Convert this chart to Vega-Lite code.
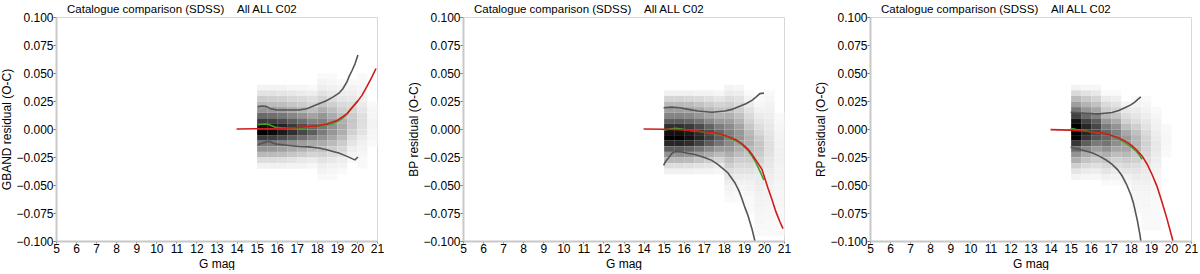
{
"$schema":"https://vega.github.io/schema/vega-lite/v6.json",
"padding":{"left":0,"right":0,"top":3,"bottom":0},
"background":"white",
"config":{
"font":"Liberation Sans",
"view":{"stroke":"#d8d8d8","strokeWidth":1},
"axis":{"labelFont":"Liberation Sans","labelFontSize":12,"labelColor":"#000","titleFont":"Liberation Sans","titleFontSize":12,"titleFontWeight":"normal","titleColor":"#000","gridColor":"#e6e6e6","gridDash":[4,4],"domainColor":"#c8c8c8","domainWidth":2,"tickColor":"#777"},
"axisX":{"tickSize":2,"labelPadding":0,"titlePadding":4},
"axisY":{"tickSize":3,"labelPadding":0,"titlePadding":2},
"title":{"font":"Liberation Sans","fontSize":11.5,"fontWeight":"normal","anchor":"start","frame":"group","dx":11,"offset":-4,"color":"#000"},
"concat":{"spacing":22}
},
"datasets":{
"heatG":[
{"x":15,"y":0.035,"d":0.04},{"x":15,"y":0.03,"d":0.1},{"x":15,"y":0.025,"d":0.18},{"x":15,"y":0.02,"d":0.25},{"x":15,"y":0.015,"d":0.38},{"x":15,"y":0.01,"d":0.55},{"x":15,"y":0.005,"d":0.75},{"x":15,"y":0,"d":0.95},{"x":15,"y":-0.005,"d":1},{"x":15,"y":-0.01,"d":0.75},{"x":15,"y":-0.015,"d":0.5},{"x":15,"y":-0.02,"d":0.38},{"x":15,"y":-0.025,"d":0.25},{"x":15,"y":-0.03,"d":0.12},{"x":15,"y":-0.035,"d":0.05},
{"x":15.5,"y":0.035,"d":0.04},{"x":15.5,"y":0.03,"d":0.1},{"x":15.5,"y":0.025,"d":0.17},{"x":15.5,"y":0.02,"d":0.24},{"x":15.5,"y":0.015,"d":0.37},{"x":15.5,"y":0.01,"d":0.53},{"x":15.5,"y":0.005,"d":0.73},{"x":15.5,"y":0,"d":0.92},{"x":15.5,"y":-0.005,"d":0.97},{"x":15.5,"y":-0.01,"d":0.73},{"x":15.5,"y":-0.015,"d":0.49},{"x":15.5,"y":-0.02,"d":0.37},{"x":15.5,"y":-0.025,"d":0.24},{"x":15.5,"y":-0.03,"d":0.12},{"x":15.5,"y":-0.035,"d":0.05},
{"x":16,"y":0.035,"d":0.04},{"x":16,"y":0.03,"d":0.09},{"x":16,"y":0.025,"d":0.16},{"x":16,"y":0.02,"d":0.23},{"x":16,"y":0.015,"d":0.34},{"x":16,"y":0.01,"d":0.5},{"x":16,"y":0.005,"d":0.68},{"x":16,"y":0,"d":0.86},{"x":16,"y":-0.005,"d":0.9},{"x":16,"y":-0.01,"d":0.68},{"x":16,"y":-0.015,"d":0.45},{"x":16,"y":-0.02,"d":0.34},{"x":16,"y":-0.025,"d":0.23},{"x":16,"y":-0.03,"d":0.11},{"x":16,"y":-0.035,"d":0.05},
{"x":16.5,"y":0.035,"d":0.03},{"x":16.5,"y":0.03,"d":0.08},{"x":16.5,"y":0.025,"d":0.14},{"x":16.5,"y":0.02,"d":0.2},{"x":16.5,"y":0.015,"d":0.3},{"x":16.5,"y":0.01,"d":0.44},{"x":16.5,"y":0.005,"d":0.6},{"x":16.5,"y":0,"d":0.76},{"x":16.5,"y":-0.005,"d":0.8},{"x":16.5,"y":-0.01,"d":0.6},{"x":16.5,"y":-0.015,"d":0.4},{"x":16.5,"y":-0.02,"d":0.3},{"x":16.5,"y":-0.025,"d":0.2},{"x":16.5,"y":-0.03,"d":0.1},{"x":16.5,"y":-0.035,"d":0.04},
{"x":17,"y":0.035,"d":0.03},{"x":17,"y":0.03,"d":0.07},{"x":17,"y":0.025,"d":0.13},{"x":17,"y":0.02,"d":0.18},{"x":17,"y":0.015,"d":0.27},{"x":17,"y":0.01,"d":0.39},{"x":17,"y":0.005,"d":0.53},{"x":17,"y":0,"d":0.67},{"x":17,"y":-0.005,"d":0.7},{"x":17,"y":-0.01,"d":0.53},{"x":17,"y":-0.015,"d":0.35},{"x":17,"y":-0.02,"d":0.27},{"x":17,"y":-0.025,"d":0.18},{"x":17,"y":-0.03,"d":0.08},{"x":17,"y":-0.035,"d":0.04},
{"x":17.5,"y":0.035,"d":0.02},{"x":17.5,"y":0.03,"d":0.06},{"x":17.5,"y":0.025,"d":0.11},{"x":17.5,"y":0.02,"d":0.15},{"x":17.5,"y":0.015,"d":0.23},{"x":17.5,"y":0.01,"d":0.33},{"x":17.5,"y":0.005,"d":0.45},{"x":17.5,"y":0,"d":0.57},{"x":17.5,"y":-0.005,"d":0.6},{"x":17.5,"y":-0.01,"d":0.45},{"x":17.5,"y":-0.015,"d":0.3},{"x":17.5,"y":-0.02,"d":0.23},{"x":17.5,"y":-0.025,"d":0.15},{"x":17.5,"y":-0.03,"d":0.07},{"x":17.5,"y":-0.035,"d":0.03},
{"x":18,"y":0.045,"d":0.02},{"x":18,"y":0.04,"d":0.04},{"x":18,"y":0.035,"d":0.06},{"x":18,"y":0.03,"d":0.1},{"x":18,"y":0.025,"d":0.15},{"x":18,"y":0.02,"d":0.21},{"x":18,"y":0.015,"d":0.29},{"x":18,"y":0.01,"d":0.38},{"x":18,"y":0.005,"d":0.46},{"x":18,"y":0,"d":0.5},{"x":18,"y":-0.005,"d":0.48},{"x":18,"y":-0.01,"d":0.4},{"x":18,"y":-0.015,"d":0.3},{"x":18,"y":-0.02,"d":0.23},{"x":18,"y":-0.025,"d":0.16},{"x":18,"y":-0.03,"d":0.1},{"x":18,"y":-0.035,"d":0.06},{"x":18,"y":-0.04,"d":0.04},{"x":18,"y":-0.045,"d":0.02},
{"x":18.5,"y":0.045,"d":0.02},{"x":18.5,"y":0.04,"d":0.03},{"x":18.5,"y":0.035,"d":0.05},{"x":18.5,"y":0.03,"d":0.08},{"x":18.5,"y":0.025,"d":0.12},{"x":18.5,"y":0.02,"d":0.17},{"x":18.5,"y":0.015,"d":0.23},{"x":18.5,"y":0.01,"d":0.3},{"x":18.5,"y":0.005,"d":0.37},{"x":18.5,"y":0,"d":0.4},{"x":18.5,"y":-0.005,"d":0.38},{"x":18.5,"y":-0.01,"d":0.32},{"x":18.5,"y":-0.015,"d":0.24},{"x":18.5,"y":-0.02,"d":0.18},{"x":18.5,"y":-0.025,"d":0.13},{"x":18.5,"y":-0.03,"d":0.08},{"x":18.5,"y":-0.035,"d":0.05},{"x":18.5,"y":-0.04,"d":0.03},{"x":18.5,"y":-0.045,"d":0.02},
{"x":19,"y":0.04,"d":0.02},{"x":19,"y":0.035,"d":0.04},{"x":19,"y":0.03,"d":0.06},{"x":19,"y":0.025,"d":0.09},{"x":19,"y":0.02,"d":0.13},{"x":19,"y":0.015,"d":0.17},{"x":19,"y":0.01,"d":0.23},{"x":19,"y":0.005,"d":0.28},{"x":19,"y":0,"d":0.3},{"x":19,"y":-0.005,"d":0.29},{"x":19,"y":-0.01,"d":0.24},{"x":19,"y":-0.015,"d":0.18},{"x":19,"y":-0.02,"d":0.14},{"x":19,"y":-0.025,"d":0.1},{"x":19,"y":-0.03,"d":0.06},{"x":19,"y":-0.035,"d":0.04},{"x":19,"y":-0.04,"d":0.02},
{"x":19.5,"y":0.04,"d":0.02},{"x":19.5,"y":0.035,"d":0.04},{"x":19.5,"y":0.03,"d":0.06},{"x":19.5,"y":0.025,"d":0.08},{"x":19.5,"y":0.02,"d":0.12},{"x":19.5,"y":0.015,"d":0.15},{"x":19.5,"y":0.01,"d":0.18},{"x":19.5,"y":0.005,"d":0.2},{"x":19.5,"y":0,"d":0.19},{"x":19.5,"y":-0.005,"d":0.16},{"x":19.5,"y":-0.01,"d":0.12},{"x":19.5,"y":-0.015,"d":0.09},{"x":19.5,"y":-0.02,"d":0.06},{"x":19.5,"y":-0.025,"d":0.04},{"x":19.5,"y":-0.03,"d":0.02},
{"x":20,"y":0.045,"d":0.02},{"x":20,"y":0.04,"d":0.02},{"x":20,"y":0.035,"d":0.03},{"x":20,"y":0.03,"d":0.04},{"x":20,"y":0.025,"d":0.05},{"x":20,"y":0.02,"d":0.07},{"x":20,"y":0.015,"d":0.09},{"x":20,"y":0.01,"d":0.11},{"x":20,"y":0.005,"d":0.12},{"x":20,"y":0,"d":0.11},{"x":20,"y":-0.005,"d":0.1},{"x":20,"y":-0.01,"d":0.07},{"x":20,"y":-0.015,"d":0.05},{"x":20,"y":-0.02,"d":0.04},{"x":20,"y":-0.025,"d":0.03},{"x":20,"y":-0.03,"d":0.02},{"x":20,"y":-0.035,"d":0.02},
{"x":20.5,"y":0.02,"d":0.02},{"x":20.5,"y":0.015,"d":0.03},{"x":20.5,"y":0.01,"d":0.03},{"x":20.5,"y":0.005,"d":0.04},{"x":20.5,"y":0,"d":0.04},{"x":20.5,"y":-0.005,"d":0.03},{"x":20.5,"y":-0.01,"d":0.03},{"x":20.5,"y":-0.015,"d":0.02}
],
"heatBP":[
{"x":15,"y":0.03,"d":0.05},{"x":15,"y":0.025,"d":0.15},{"x":15,"y":0.02,"d":0.25},{"x":15,"y":0.015,"d":0.35},{"x":15,"y":0.01,"d":0.45},{"x":15,"y":0.005,"d":0.6},{"x":15,"y":0,"d":0.8},{"x":15,"y":-0.005,"d":0.95},{"x":15,"y":-0.01,"d":1},{"x":15,"y":-0.015,"d":0.85},{"x":15,"y":-0.02,"d":0.6},{"x":15,"y":-0.025,"d":0.4},{"x":15,"y":-0.03,"d":0.25},{"x":15,"y":-0.035,"d":0.12},{"x":15,"y":-0.04,"d":0.05},
{"x":15.5,"y":0.03,"d":0.05},{"x":15.5,"y":0.025,"d":0.15},{"x":15.5,"y":0.02,"d":0.25},{"x":15.5,"y":0.015,"d":0.35},{"x":15.5,"y":0.01,"d":0.45},{"x":15.5,"y":0.005,"d":0.6},{"x":15.5,"y":0,"d":0.8},{"x":15.5,"y":-0.005,"d":0.95},{"x":15.5,"y":-0.01,"d":1},{"x":15.5,"y":-0.015,"d":0.85},{"x":15.5,"y":-0.02,"d":0.6},{"x":15.5,"y":-0.025,"d":0.4},{"x":15.5,"y":-0.03,"d":0.25},{"x":15.5,"y":-0.035,"d":0.12},{"x":15.5,"y":-0.04,"d":0.05},
{"x":16,"y":0.03,"d":0.05},{"x":16,"y":0.025,"d":0.14},{"x":16,"y":0.02,"d":0.24},{"x":16,"y":0.015,"d":0.33},{"x":16,"y":0.01,"d":0.43},{"x":16,"y":0.005,"d":0.57},{"x":16,"y":0,"d":0.76},{"x":16,"y":-0.005,"d":0.9},{"x":16,"y":-0.01,"d":0.95},{"x":16,"y":-0.015,"d":0.81},{"x":16,"y":-0.02,"d":0.57},{"x":16,"y":-0.025,"d":0.38},{"x":16,"y":-0.03,"d":0.24},{"x":16,"y":-0.035,"d":0.11},{"x":16,"y":-0.04,"d":0.05},
{"x":16.5,"y":0.03,"d":0.04},{"x":16.5,"y":0.025,"d":0.13},{"x":16.5,"y":0.02,"d":0.21},{"x":16.5,"y":0.015,"d":0.3},{"x":16.5,"y":0.01,"d":0.38},{"x":16.5,"y":0.005,"d":0.51},{"x":16.5,"y":0,"d":0.68},{"x":16.5,"y":-0.005,"d":0.81},{"x":16.5,"y":-0.01,"d":0.85},{"x":16.5,"y":-0.015,"d":0.72},{"x":16.5,"y":-0.02,"d":0.51},{"x":16.5,"y":-0.025,"d":0.34},{"x":16.5,"y":-0.03,"d":0.21},{"x":16.5,"y":-0.035,"d":0.1},{"x":16.5,"y":-0.04,"d":0.04},
{"x":17,"y":0.03,"d":0.04},{"x":17,"y":0.025,"d":0.11},{"x":17,"y":0.02,"d":0.18},{"x":17,"y":0.015,"d":0.25},{"x":17,"y":0.01,"d":0.32},{"x":17,"y":0.005,"d":0.43},{"x":17,"y":0,"d":0.58},{"x":17,"y":-0.005,"d":0.68},{"x":17,"y":-0.01,"d":0.72},{"x":17,"y":-0.015,"d":0.61},{"x":17,"y":-0.02,"d":0.43},{"x":17,"y":-0.025,"d":0.29},{"x":17,"y":-0.03,"d":0.18},{"x":17,"y":-0.035,"d":0.09},{"x":17,"y":-0.04,"d":0.04},
{"x":17.5,"y":0.03,"d":0.03},{"x":17.5,"y":0.025,"d":0.09},{"x":17.5,"y":0.02,"d":0.15},{"x":17.5,"y":0.015,"d":0.21},{"x":17.5,"y":0.01,"d":0.27},{"x":17.5,"y":0.005,"d":0.36},{"x":17.5,"y":0,"d":0.48},{"x":17.5,"y":-0.005,"d":0.57},{"x":17.5,"y":-0.01,"d":0.6},{"x":17.5,"y":-0.015,"d":0.51},{"x":17.5,"y":-0.02,"d":0.36},{"x":17.5,"y":-0.025,"d":0.24},{"x":17.5,"y":-0.03,"d":0.15},{"x":17.5,"y":-0.035,"d":0.07},{"x":17.5,"y":-0.04,"d":0.03},
{"x":18,"y":0.035,"d":0.04},{"x":18,"y":0.03,"d":0.07},{"x":18,"y":0.025,"d":0.12},{"x":18,"y":0.02,"d":0.17},{"x":18,"y":0.015,"d":0.22},{"x":18,"y":0.01,"d":0.28},{"x":18,"y":0.005,"d":0.35},{"x":18,"y":0,"d":0.42},{"x":18,"y":-0.005,"d":0.47},{"x":18,"y":-0.01,"d":0.48},{"x":18,"y":-0.015,"d":0.43},{"x":18,"y":-0.02,"d":0.36},{"x":18,"y":-0.025,"d":0.29},{"x":18,"y":-0.03,"d":0.22},{"x":18,"y":-0.035,"d":0.17},{"x":18,"y":-0.04,"d":0.12},{"x":18,"y":-0.045,"d":0.09},{"x":18,"y":-0.05,"d":0.06},{"x":18,"y":-0.055,"d":0.04},{"x":18,"y":-0.06,"d":0.03},{"x":18,"y":-0.065,"d":0.02},
{"x":18.5,"y":0.035,"d":0.03},{"x":18.5,"y":0.03,"d":0.06},{"x":18.5,"y":0.025,"d":0.1},{"x":18.5,"y":0.02,"d":0.13},{"x":18.5,"y":0.015,"d":0.17},{"x":18.5,"y":0.01,"d":0.22},{"x":18.5,"y":0.005,"d":0.27},{"x":18.5,"y":0,"d":0.33},{"x":18.5,"y":-0.005,"d":0.37},{"x":18.5,"y":-0.01,"d":0.38},{"x":18.5,"y":-0.015,"d":0.34},{"x":18.5,"y":-0.02,"d":0.29},{"x":18.5,"y":-0.025,"d":0.23},{"x":18.5,"y":-0.03,"d":0.17},{"x":18.5,"y":-0.035,"d":0.13},{"x":18.5,"y":-0.04,"d":0.1},{"x":18.5,"y":-0.045,"d":0.07},{"x":18.5,"y":-0.05,"d":0.05},{"x":18.5,"y":-0.055,"d":0.03},{"x":18.5,"y":-0.06,"d":0.02},{"x":18.5,"y":-0.065,"d":0.02},
{"x":19,"y":0.03,"d":0.02},{"x":19,"y":0.025,"d":0.04},{"x":19,"y":0.02,"d":0.07},{"x":19,"y":0.015,"d":0.1},{"x":19,"y":0.01,"d":0.13},{"x":19,"y":0.005,"d":0.16},{"x":19,"y":0,"d":0.2},{"x":19,"y":-0.005,"d":0.25},{"x":19,"y":-0.01,"d":0.27},{"x":19,"y":-0.015,"d":0.28},{"x":19,"y":-0.02,"d":0.25},{"x":19,"y":-0.025,"d":0.21},{"x":19,"y":-0.03,"d":0.17},{"x":19,"y":-0.035,"d":0.13},{"x":19,"y":-0.04,"d":0.1},{"x":19,"y":-0.045,"d":0.07},{"x":19,"y":-0.05,"d":0.05},{"x":19,"y":-0.055,"d":0.04},{"x":19,"y":-0.06,"d":0.03},{"x":19,"y":-0.065,"d":0.02},{"x":19,"y":-0.07,"d":0.02},{"x":19,"y":-0.075,"d":0.02},
{"x":19.5,"y":0.025,"d":0.02},{"x":19.5,"y":0.02,"d":0.03},{"x":19.5,"y":0.015,"d":0.05},{"x":19.5,"y":0.01,"d":0.07},{"x":19.5,"y":0.005,"d":0.09},{"x":19.5,"y":0,"d":0.12},{"x":19.5,"y":-0.005,"d":0.14},{"x":19.5,"y":-0.01,"d":0.18},{"x":19.5,"y":-0.015,"d":0.2},{"x":19.5,"y":-0.02,"d":0.2},{"x":19.5,"y":-0.025,"d":0.18},{"x":19.5,"y":-0.03,"d":0.15},{"x":19.5,"y":-0.035,"d":0.12},{"x":19.5,"y":-0.04,"d":0.09},{"x":19.5,"y":-0.045,"d":0.07},{"x":19.5,"y":-0.05,"d":0.07},{"x":19.5,"y":-0.055,"d":0.06},{"x":19.5,"y":-0.06,"d":0.05},{"x":19.5,"y":-0.065,"d":0.045},{"x":19.5,"y":-0.07,"d":0.04},{"x":19.5,"y":-0.075,"d":0.035},{"x":19.5,"y":-0.08,"d":0.03},{"x":19.5,"y":-0.085,"d":0.03},{"x":19.5,"y":-0.09,"d":0.025},{"x":19.5,"y":-0.095,"d":0.02},
{"x":20,"y":0.03,"d":0.02},{"x":20,"y":0.025,"d":0.03},{"x":20,"y":0.02,"d":0.04},{"x":20,"y":0.015,"d":0.05},{"x":20,"y":0.01,"d":0.06},{"x":20,"y":0.005,"d":0.07},{"x":20,"y":0,"d":0.08},{"x":20,"y":-0.005,"d":0.09},{"x":20,"y":-0.01,"d":0.1},{"x":20,"y":-0.015,"d":0.11},{"x":20,"y":-0.02,"d":0.11},{"x":20,"y":-0.025,"d":0.1},{"x":20,"y":-0.03,"d":0.09},{"x":20,"y":-0.035,"d":0.08},{"x":20,"y":-0.04,"d":0.07},{"x":20,"y":-0.045,"d":0.06},{"x":20,"y":-0.05,"d":0.055},{"x":20,"y":-0.055,"d":0.05},{"x":20,"y":-0.06,"d":0.045},{"x":20,"y":-0.065,"d":0.04},{"x":20,"y":-0.07,"d":0.035},{"x":20,"y":-0.075,"d":0.03},{"x":20,"y":-0.08,"d":0.03},{"x":20,"y":-0.085,"d":0.025},{"x":20,"y":-0.09,"d":0.025},{"x":20,"y":-0.095,"d":0.02},
{"x":20.5,"y":0.01,"d":0.02},{"x":20.5,"y":0.005,"d":0.025},{"x":20.5,"y":0,"d":0.03},{"x":20.5,"y":-0.005,"d":0.035},{"x":20.5,"y":-0.01,"d":0.04},{"x":20.5,"y":-0.015,"d":0.045},{"x":20.5,"y":-0.02,"d":0.05},{"x":20.5,"y":-0.025,"d":0.05},{"x":20.5,"y":-0.03,"d":0.05},{"x":20.5,"y":-0.035,"d":0.045},{"x":20.5,"y":-0.04,"d":0.04},{"x":20.5,"y":-0.045,"d":0.04},{"x":20.5,"y":-0.05,"d":0.035},{"x":20.5,"y":-0.055,"d":0.035},{"x":20.5,"y":-0.06,"d":0.03},{"x":20.5,"y":-0.065,"d":0.03},{"x":20.5,"y":-0.07,"d":0.03},{"x":20.5,"y":-0.075,"d":0.025},{"x":20.5,"y":-0.08,"d":0.025},{"x":20.5,"y":-0.085,"d":0.02},{"x":20.5,"y":-0.09,"d":0.02},{"x":20.5,"y":-0.095,"d":0.02}
],
"heatRP":[
{"x":15,"y":0.035,"d":0.04},{"x":15,"y":0.03,"d":0.13},{"x":15,"y":0.025,"d":0.24},{"x":15,"y":0.02,"d":0.35},{"x":15,"y":0.015,"d":0.5},{"x":15,"y":0.01,"d":0.72},{"x":15,"y":0.005,"d":0.94},{"x":15,"y":0,"d":1},{"x":15,"y":-0.005,"d":1},{"x":15,"y":-0.01,"d":0.99},{"x":15,"y":-0.015,"d":0.77},{"x":15,"y":-0.02,"d":0.55},{"x":15,"y":-0.025,"d":0.39},{"x":15,"y":-0.03,"d":0.28},{"x":15,"y":-0.035,"d":0.17},{"x":15,"y":-0.04,"d":0.09},{"x":15,"y":-0.045,"d":0.04},
{"x":15.5,"y":0.035,"d":0.03},{"x":15.5,"y":0.03,"d":0.1},{"x":15.5,"y":0.025,"d":0.19},{"x":15.5,"y":0.02,"d":0.27},{"x":15.5,"y":0.015,"d":0.38},{"x":15.5,"y":0.01,"d":0.55},{"x":15.5,"y":0.005,"d":0.72},{"x":15.5,"y":0,"d":0.85},{"x":15.5,"y":-0.005,"d":0.85},{"x":15.5,"y":-0.01,"d":0.77},{"x":15.5,"y":-0.015,"d":0.6},{"x":15.5,"y":-0.02,"d":0.43},{"x":15.5,"y":-0.025,"d":0.3},{"x":15.5,"y":-0.03,"d":0.21},{"x":15.5,"y":-0.035,"d":0.13},{"x":15.5,"y":-0.04,"d":0.07},{"x":15.5,"y":-0.045,"d":0.03},
{"x":16,"y":0.035,"d":0.03},{"x":16,"y":0.03,"d":0.08},{"x":16,"y":0.025,"d":0.15},{"x":16,"y":0.02,"d":0.22},{"x":16,"y":0.015,"d":0.32},{"x":16,"y":0.01,"d":0.46},{"x":16,"y":0.005,"d":0.6},{"x":16,"y":0,"d":0.7},{"x":16,"y":-0.005,"d":0.7},{"x":16,"y":-0.01,"d":0.63},{"x":16,"y":-0.015,"d":0.49},{"x":16,"y":-0.02,"d":0.35},{"x":16,"y":-0.025,"d":0.25},{"x":16,"y":-0.03,"d":0.18},{"x":16,"y":-0.035,"d":0.11},{"x":16,"y":-0.04,"d":0.06},{"x":16,"y":-0.045,"d":0.03},
{"x":16.5,"y":0.03,"d":0.02},{"x":16.5,"y":0.025,"d":0.07},{"x":16.5,"y":0.02,"d":0.13},{"x":16.5,"y":0.015,"d":0.18},{"x":16.5,"y":0.01,"d":0.26},{"x":16.5,"y":0.005,"d":0.37},{"x":16.5,"y":0,"d":0.48},{"x":16.5,"y":-0.005,"d":0.57},{"x":16.5,"y":-0.01,"d":0.57},{"x":16.5,"y":-0.015,"d":0.51},{"x":16.5,"y":-0.02,"d":0.4},{"x":16.5,"y":-0.025,"d":0.29},{"x":16.5,"y":-0.03,"d":0.2},{"x":16.5,"y":-0.035,"d":0.14},{"x":16.5,"y":-0.04,"d":0.09},{"x":16.5,"y":-0.045,"d":0.05},{"x":16.5,"y":-0.05,"d":0.02},
{"x":17,"y":0.03,"d":0.02},{"x":17,"y":0.025,"d":0.06},{"x":17,"y":0.02,"d":0.1},{"x":17,"y":0.015,"d":0.15},{"x":17,"y":0.01,"d":0.21},{"x":17,"y":0.005,"d":0.3},{"x":17,"y":0,"d":0.39},{"x":17,"y":-0.005,"d":0.46},{"x":17,"y":-0.01,"d":0.46},{"x":17,"y":-0.015,"d":0.41},{"x":17,"y":-0.02,"d":0.32},{"x":17,"y":-0.025,"d":0.23},{"x":17,"y":-0.03,"d":0.16},{"x":17,"y":-0.035,"d":0.12},{"x":17,"y":-0.04,"d":0.07},{"x":17,"y":-0.045,"d":0.04},{"x":17,"y":-0.05,"d":0.02},
{"x":17.5,"y":0.02,"d":0.04},{"x":17.5,"y":0.015,"d":0.08},{"x":17.5,"y":0.01,"d":0.12},{"x":17.5,"y":0.005,"d":0.16},{"x":17.5,"y":0,"d":0.23},{"x":17.5,"y":-0.005,"d":0.31},{"x":17.5,"y":-0.01,"d":0.36},{"x":17.5,"y":-0.015,"d":0.36},{"x":17.5,"y":-0.02,"d":0.32},{"x":17.5,"y":-0.025,"d":0.25},{"x":17.5,"y":-0.03,"d":0.18},{"x":17.5,"y":-0.035,"d":0.13},{"x":17.5,"y":-0.04,"d":0.09},{"x":17.5,"y":-0.045,"d":0.05},{"x":17.5,"y":-0.05,"d":0.03},
{"x":18,"y":0.025,"d":0.02},{"x":18,"y":0.02,"d":0.04},{"x":18,"y":0.015,"d":0.07},{"x":18,"y":0.01,"d":0.09},{"x":18,"y":0.005,"d":0.12},{"x":18,"y":0,"d":0.17},{"x":18,"y":-0.005,"d":0.22},{"x":18,"y":-0.01,"d":0.26},{"x":18,"y":-0.015,"d":0.26},{"x":18,"y":-0.02,"d":0.24},{"x":18,"y":-0.025,"d":0.2},{"x":18,"y":-0.03,"d":0.16},{"x":18,"y":-0.035,"d":0.12},{"x":18,"y":-0.04,"d":0.09},{"x":18,"y":-0.045,"d":0.07},{"x":18,"y":-0.05,"d":0.05},{"x":18,"y":-0.055,"d":0.04},{"x":18,"y":-0.06,"d":0.03},{"x":18,"y":-0.065,"d":0.03},{"x":18,"y":-0.07,"d":0.025},{"x":18,"y":-0.075,"d":0.02},
{"x":18.5,"y":0.025,"d":0.02},{"x":18.5,"y":0.02,"d":0.03},{"x":18.5,"y":0.015,"d":0.04},{"x":18.5,"y":0.01,"d":0.06},{"x":18.5,"y":0.005,"d":0.08},{"x":18.5,"y":0,"d":0.1},{"x":18.5,"y":-0.005,"d":0.13},{"x":18.5,"y":-0.01,"d":0.15},{"x":18.5,"y":-0.015,"d":0.16},{"x":18.5,"y":-0.02,"d":0.15},{"x":18.5,"y":-0.025,"d":0.13},{"x":18.5,"y":-0.03,"d":0.11},{"x":18.5,"y":-0.035,"d":0.09},{"x":18.5,"y":-0.04,"d":0.07},{"x":18.5,"y":-0.045,"d":0.06},{"x":18.5,"y":-0.05,"d":0.05},{"x":18.5,"y":-0.055,"d":0.04},{"x":18.5,"y":-0.06,"d":0.035},{"x":18.5,"y":-0.065,"d":0.03},{"x":18.5,"y":-0.07,"d":0.03},{"x":18.5,"y":-0.075,"d":0.025},{"x":18.5,"y":-0.08,"d":0.025},{"x":18.5,"y":-0.085,"d":0.02},{"x":18.5,"y":-0.09,"d":0.02},
{"x":19,"y":0.015,"d":0.02},{"x":19,"y":0.01,"d":0.03},{"x":19,"y":0.005,"d":0.04},{"x":19,"y":0,"d":0.05},{"x":19,"y":-0.005,"d":0.06},{"x":19,"y":-0.01,"d":0.07},{"x":19,"y":-0.015,"d":0.08},{"x":19,"y":-0.02,"d":0.08},{"x":19,"y":-0.025,"d":0.07},{"x":19,"y":-0.03,"d":0.06},{"x":19,"y":-0.035,"d":0.05},{"x":19,"y":-0.04,"d":0.04},{"x":19,"y":-0.045,"d":0.035},{"x":19,"y":-0.05,"d":0.03},{"x":19,"y":-0.055,"d":0.03},{"x":19,"y":-0.06,"d":0.025},{"x":19,"y":-0.065,"d":0.02},{"x":19,"y":-0.07,"d":0.02},{"x":19,"y":-0.075,"d":0.02},{"x":19,"y":-0.08,"d":0.02},{"x":19,"y":-0.085,"d":0.02},{"x":19,"y":-0.09,"d":0.02},
{"x":19.5,"y":0,"d":0.02},{"x":19.5,"y":-0.005,"d":0.025},{"x":19.5,"y":-0.01,"d":0.03},{"x":19.5,"y":-0.015,"d":0.03},{"x":19.5,"y":-0.02,"d":0.025},{"x":19.5,"y":-0.025,"d":0.02}
],
"lineG":[
{"s":"upper","x":15.05,"v":0.02},{"s":"upper","x":15.3,"v":0.0205},{"s":"upper","x":15.5,"v":0.02},{"s":"upper","x":15.7,"v":0.018},{"s":"upper","x":16.0,"v":0.017},{"s":"upper","x":16.5,"v":0.017},{"s":"upper","x":17.1,"v":0.017},{"s":"upper","x":17.5,"v":0.018},{"s":"upper","x":18.1,"v":0.0225},{"s":"upper","x":18.5,"v":0.0255},{"s":"upper","x":18.8,"v":0.0285},{"s":"upper","x":19.1,"v":0.032},{"s":"upper","x":19.3,"v":0.036},{"s":"upper","x":19.5,"v":0.042},{"s":"upper","x":19.6,"v":0.0465},{"s":"upper","x":19.75,"v":0.052},{"s":"upper","x":19.9,"v":0.058},{"s":"upper","x":20.05,"v":0.066},
{"s":"lower","x":15.05,"v":-0.014},{"s":"lower","x":15.3,"v":-0.0125},{"s":"lower","x":15.5,"v":-0.0115},{"s":"lower","x":15.65,"v":-0.011},{"s":"lower","x":15.8,"v":-0.0125},{"s":"lower","x":16.0,"v":-0.0135},{"s":"lower","x":16.5,"v":-0.0145},{"s":"lower","x":17.1,"v":-0.0156},{"s":"lower","x":17.6,"v":-0.016},{"s":"lower","x":18.1,"v":-0.017},{"s":"lower","x":18.5,"v":-0.0185},{"s":"lower","x":18.8,"v":-0.02},{"s":"lower","x":19.1,"v":-0.0215},{"s":"lower","x":19.45,"v":-0.024},{"s":"lower","x":19.7,"v":-0.026},{"s":"lower","x":19.9,"v":-0.0276},{"s":"lower","x":20.05,"v":-0.025},
{"s":"median","x":15.05,"v":0.0036},{"s":"median","x":15.2,"v":0.0042},{"s":"median","x":15.45,"v":0.0045},{"s":"median","x":15.6,"v":0.004},{"s":"median","x":15.75,"v":0.003},{"s":"median","x":16.0,"v":0.0012},{"s":"median","x":16.5,"v":0.0008},{"s":"median","x":17.1,"v":0.0008},{"s":"median","x":17.6,"v":0.0014},{"s":"median","x":18.1,"v":0.0024},{"s":"median","x":18.5,"v":0.0036},{"s":"median","x":18.8,"v":0.005},{"s":"median","x":19.1,"v":0.0075},{"s":"median","x":19.3,"v":0.01},{"s":"median","x":19.5,"v":0.0135},{"s":"median","x":19.7,"v":0.018},{"s":"median","x":19.9,"v":0.022},{"s":"median","x":20.05,"v":0.0255},
{"s":"fit","x":14.0,"v":0},{"s":"fit","x":15,"v":0.0002},{"s":"fit","x":16,"v":0.0005},{"s":"fit","x":17,"v":0.0012},{"s":"fit","x":17.5,"v":0.002},{"s":"fit","x":18,"v":0.0028},{"s":"fit","x":18.5,"v":0.0045},{"s":"fit","x":19,"v":0.0075},{"s":"fit","x":19.5,"v":0.0135},{"s":"fit","x":20,"v":0.024},{"s":"fit","x":20.25,"v":0.03},{"s":"fit","x":20.5,"v":0.038},{"s":"fit","x":20.75,"v":0.0465},{"s":"fit","x":20.95,"v":0.054}
],
"lineBP":[
{"s":"upper","x":15.0,"v":0.019},{"s":"upper","x":15.4,"v":0.0195},{"s":"upper","x":15.8,"v":0.019},{"s":"upper","x":16.1,"v":0.018},{"s":"upper","x":16.7,"v":0.016},{"s":"upper","x":17.4,"v":0.015},{"s":"upper","x":18.06,"v":0.016},{"s":"upper","x":18.4,"v":0.0175},{"s":"upper","x":18.7,"v":0.0196},{"s":"upper","x":19.1,"v":0.0225},{"s":"upper","x":19.4,"v":0.0256},{"s":"upper","x":19.6,"v":0.0285},{"s":"upper","x":19.8,"v":0.0316},{"s":"upper","x":20.0,"v":0.032},
{"s":"lower","x":15.0,"v":-0.0325},{"s":"lower","x":15.1,"v":-0.029},{"s":"lower","x":15.25,"v":-0.0256},{"s":"lower","x":15.4,"v":-0.022},{"s":"lower","x":15.6,"v":-0.02},{"s":"lower","x":15.9,"v":-0.0205},{"s":"lower","x":16.2,"v":-0.0217},{"s":"lower","x":16.6,"v":-0.023},{"s":"lower","x":17.07,"v":-0.0256},{"s":"lower","x":17.4,"v":-0.028},{"s":"lower","x":17.7,"v":-0.0316},{"s":"lower","x":18.0,"v":-0.036},{"s":"lower","x":18.2,"v":-0.039},{"s":"lower","x":18.55,"v":-0.048},{"s":"lower","x":18.75,"v":-0.055},{"s":"lower","x":18.9,"v":-0.062},{"s":"lower","x":19.05,"v":-0.07},{"s":"lower","x":19.2,"v":-0.077},{"s":"lower","x":19.4,"v":-0.089},{"s":"lower","x":19.55,"v":-0.1},
{"s":"median","x":15.0,"v":-0.001},{"s":"median","x":15.3,"v":0.0},{"s":"median","x":15.6,"v":0.0006},{"s":"median","x":15.9,"v":0.0},{"s":"median","x":16.2,"v":-0.001},{"s":"median","x":16.8,"v":-0.0022},{"s":"median","x":17.4,"v":-0.0036},{"s":"median","x":17.8,"v":-0.0052},{"s":"median","x":18.2,"v":-0.0075},{"s":"median","x":18.6,"v":-0.0105},{"s":"median","x":18.9,"v":-0.014},{"s":"median","x":19.2,"v":-0.019},{"s":"median","x":19.4,"v":-0.024},{"s":"median","x":19.6,"v":-0.03},{"s":"median","x":19.8,"v":-0.0376},{"s":"median","x":20.0,"v":-0.0457},
{"s":"fit","x":14.0,"v":0.0},{"s":"fit","x":15.0,"v":-0.0002},{"s":"fit","x":15.5,"v":-0.0005},{"s":"fit","x":16.2,"v":-0.001},{"s":"fit","x":16.8,"v":-0.002},{"s":"fit","x":17.4,"v":-0.003},{"s":"fit","x":17.8,"v":-0.0045},{"s":"fit","x":18.2,"v":-0.0066},{"s":"fit","x":18.6,"v":-0.0095},{"s":"fit","x":18.9,"v":-0.013},{"s":"fit","x":19.2,"v":-0.018},{"s":"fit","x":19.4,"v":-0.0226},{"s":"fit","x":19.7,"v":-0.0305},{"s":"fit","x":19.9,"v":-0.036},{"s":"fit","x":20.2,"v":-0.0527},{"s":"fit","x":20.4,"v":-0.063},{"s":"fit","x":20.6,"v":-0.074},{"s":"fit","x":20.8,"v":-0.083},{"s":"fit","x":20.95,"v":-0.089}
],
"lineRP":[
{"s":"upper","x":15.0,"v":0.015},{"s":"upper","x":15.4,"v":0.0145},{"s":"upper","x":15.75,"v":0.0141},{"s":"upper","x":16.1,"v":0.0137},{"s":"upper","x":16.4,"v":0.0135},{"s":"upper","x":16.7,"v":0.014},{"s":"upper","x":17.07,"v":0.0147},{"s":"upper","x":17.4,"v":0.0165},{"s":"upper","x":17.7,"v":0.019},{"s":"upper","x":18.0,"v":0.0215},{"s":"upper","x":18.2,"v":0.024},{"s":"upper","x":18.35,"v":0.0265},{"s":"upper","x":18.5,"v":0.0286},
{"s":"lower","x":15.0,"v":-0.016},{"s":"lower","x":15.4,"v":-0.018},{"s":"lower","x":15.75,"v":-0.0196},{"s":"lower","x":16.1,"v":-0.0215},{"s":"lower","x":16.4,"v":-0.024},{"s":"lower","x":16.75,"v":-0.0275},{"s":"lower","x":17.07,"v":-0.0316},{"s":"lower","x":17.35,"v":-0.0365},{"s":"lower","x":17.57,"v":-0.042},{"s":"lower","x":17.8,"v":-0.05},{"s":"lower","x":18.0,"v":-0.0587},{"s":"lower","x":18.13,"v":-0.066},{"s":"lower","x":18.23,"v":-0.074},{"s":"lower","x":18.33,"v":-0.082},{"s":"lower","x":18.4,"v":-0.089},{"s":"lower","x":18.46,"v":-0.095},{"s":"lower","x":18.5,"v":-0.1},
{"s":"median","x":15.0,"v":0.0006},{"s":"median","x":15.3,"v":-0.0005},{"s":"median","x":15.75,"v":-0.0015},{"s":"median","x":16.2,"v":-0.003},{"s":"median","x":16.74,"v":-0.0045},{"s":"median","x":17.1,"v":-0.0065},{"s":"median","x":17.4,"v":-0.009},{"s":"median","x":17.75,"v":-0.0125},{"s":"median","x":18.07,"v":-0.0166},{"s":"median","x":18.25,"v":-0.0195},{"s":"median","x":18.4,"v":-0.0226},{"s":"median","x":18.56,"v":-0.027},
{"s":"fit","x":14.0,"v":-0.0006},{"s":"fit","x":15.0,"v":-0.001},{"s":"fit","x":15.7,"v":-0.002},{"s":"fit","x":16.4,"v":-0.003},{"s":"fit","x":16.9,"v":-0.005},{"s":"fit","x":17.4,"v":-0.008},{"s":"fit","x":17.75,"v":-0.011},{"s":"fit","x":18.07,"v":-0.015},{"s":"fit","x":18.3,"v":-0.019},{"s":"fit","x":18.56,"v":-0.024},{"s":"fit","x":18.8,"v":-0.031},{"s":"fit","x":19.06,"v":-0.0406},{"s":"fit","x":19.3,"v":-0.051},{"s":"fit","x":19.5,"v":-0.062},{"s":"fit","x":19.65,"v":-0.071},{"s":"fit","x":19.8,"v":-0.08},{"s":"fit","x":19.95,"v":-0.09},{"s":"fit","x":20.1,"v":-0.1}
]
},
"hconcat":[
{"width":321,"height":224,
"title":{"text":"Catalogue comparison (SDSS)\u00a0\u00a0\u00a0\u00a0All ALL C02"},
"layer":[
{"data":{"name":"heatG"},"mark":{"type":"rect","binSpacing":0},"encoding":{
"x":{"field":"x","type":"quantitative","bin":{"binned":true,"step":0.5},"scale":{"domain":[5,21],"nice":false,"zero":false},"axis":{"title":"G mag","values":[5,6,7,8,9,10,11,12,13,14,15,16,17,18,19,20,21],"format":"d","labelFlush":false}},
"y":{"field":"y","type":"quantitative","bin":{"binned":true,"step":0.005},"scale":{"domain":[-0.1,0.1],"nice":false,"zero":false},"axis":{"title":"GBAND residual (O-C)","values":[-0.1,-0.075,-0.05,-0.025,0,0.025,0.05,0.075,0.1],"format":".3f"}},
"color":{"field":"d","type":"quantitative","scale":{"domain":[0,1],"range":["#ffffff","#000000"],"clamp":true},"legend":null}}},
{"data":{"name":"lineG"},"mark":{"type":"line","clip":true,"strokeWidth":1.6},"encoding":{
"x":{"field":"x","type":"quantitative"},
"y":{"field":"v","type":"quantitative"},
"detail":{"field":"s","type":"nominal"},
"stroke":{"field":"s","type":"nominal","scale":{"domain":["upper","lower","median","fit"],"range":["#555555","#555555","#44a02c","#d01c1c"]},"legend":null}}}
]},
{"width":321,"height":224,
"title":{"text":"Catalogue comparison (SDSS)\u00a0\u00a0\u00a0\u00a0All ALL C02"},
"layer":[
{"data":{"name":"heatBP"},"mark":{"type":"rect","binSpacing":0},"encoding":{
"x":{"field":"x","type":"quantitative","bin":{"binned":true,"step":0.5},"scale":{"domain":[5,21],"nice":false,"zero":false},"axis":{"title":"G mag","values":[5,6,7,8,9,10,11,12,13,14,15,16,17,18,19,20,21],"format":"d","labelFlush":false}},
"y":{"field":"y","type":"quantitative","bin":{"binned":true,"step":0.005},"scale":{"domain":[-0.1,0.1],"nice":false,"zero":false},"axis":{"title":"BP residual (O-C)","values":[-0.1,-0.075,-0.05,-0.025,0,0.025,0.05,0.075,0.1],"format":".3f"}},
"color":{"field":"d","type":"quantitative","scale":{"domain":[0,1],"range":["#ffffff","#000000"],"clamp":true},"legend":null}}},
{"data":{"name":"lineBP"},"mark":{"type":"line","clip":true,"strokeWidth":1.6},"encoding":{
"x":{"field":"x","type":"quantitative"},
"y":{"field":"v","type":"quantitative"},
"detail":{"field":"s","type":"nominal"},
"stroke":{"field":"s","type":"nominal","scale":{"domain":["upper","lower","median","fit"],"range":["#555555","#555555","#44a02c","#d01c1c"]},"legend":null}}}
]},
{"width":321,"height":224,
"title":{"text":"Catalogue comparison (SDSS)\u00a0\u00a0\u00a0\u00a0All ALL C02"},
"layer":[
{"data":{"name":"heatRP"},"mark":{"type":"rect","binSpacing":0},"encoding":{
"x":{"field":"x","type":"quantitative","bin":{"binned":true,"step":0.5},"scale":{"domain":[5,21],"nice":false,"zero":false},"axis":{"title":"G mag","values":[5,6,7,8,9,10,11,12,13,14,15,16,17,18,19,20,21],"format":"d","labelFlush":false}},
"y":{"field":"y","type":"quantitative","bin":{"binned":true,"step":0.005},"scale":{"domain":[-0.1,0.1],"nice":false,"zero":false},"axis":{"title":"RP residual (O-C)","values":[-0.1,-0.075,-0.05,-0.025,0,0.025,0.05,0.075,0.1],"format":".3f"}},
"color":{"field":"d","type":"quantitative","scale":{"domain":[0,1],"range":["#ffffff","#000000"],"clamp":true},"legend":null}}},
{"data":{"name":"lineRP"},"mark":{"type":"line","clip":true,"strokeWidth":1.6},"encoding":{
"x":{"field":"x","type":"quantitative"},
"y":{"field":"v","type":"quantitative"},
"detail":{"field":"s","type":"nominal"},
"stroke":{"field":"s","type":"nominal","scale":{"domain":["upper","lower","median","fit"],"range":["#555555","#555555","#44a02c","#d01c1c"]},"legend":null}}}
]}
]
}
